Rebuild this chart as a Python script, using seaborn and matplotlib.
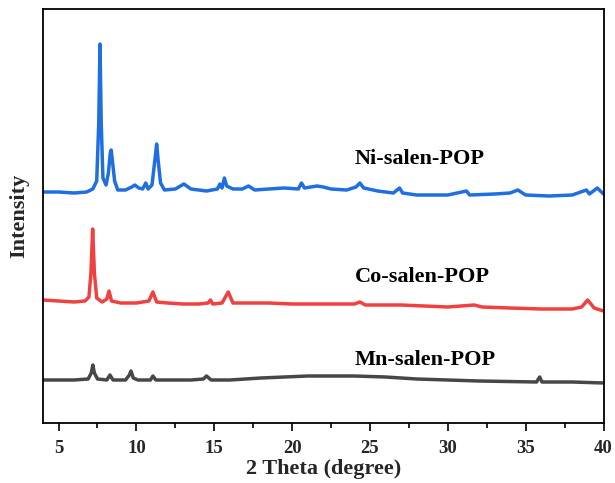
import matplotlib
matplotlib.use("Agg")
import matplotlib.pyplot as plt
import seaborn as sns
import pandas as pd
from matplotlib.ticker import MultipleLocator

# ---- data (2θ in degrees, intensity in arbitrary units) ----
ni_x = [4.0, 5.0, 6.0, 6.8, 7.2, 7.45, 7.58, 7.66, 7.74, 7.85, 8.05, 8.2, 8.32, 8.38, 8.46,
        8.6, 8.8, 9.3, 9.7, 9.9, 10.15, 10.4, 10.6, 10.75, 11.0, 11.2, 11.3, 11.4, 11.55, 11.8,
        12.5, 13.05, 13.5, 14.5, 15.2, 15.36, 15.5, 15.65, 15.8, 16.2, 16.8, 17.2, 17.6, 18.5,
        19.5, 20.4, 20.6, 20.8, 21.6, 22.0, 22.5, 23.5, 24.1, 24.35, 24.6, 25.5, 26.5, 26.9,
        27.1, 28.0, 30.0, 31.2, 31.4, 33.0, 34.0, 34.5, 35.0, 36.5, 38.0, 38.9, 39.1, 39.6, 40.0]
ni_y = [231, 231, 230, 231, 234, 242, 300, 379, 300, 245, 238, 250, 270, 273, 262,
        242, 233, 233, 236, 238, 235, 234, 240, 234, 238, 265, 279, 262, 240, 233,
        234, 239, 234, 232, 234, 239, 235, 245, 237, 234, 234, 237, 233, 234,
        235, 234, 240, 235, 237, 236, 234, 233, 236, 240, 235, 232, 230, 235,
        230, 228, 228, 232, 228, 229, 230, 233, 228, 227, 228, 233, 229, 235, 229]

co_x = [4.0, 5.0, 6.0, 6.7, 6.95, 7.08, 7.19, 7.3, 7.45, 7.8, 8.1, 8.24, 8.4, 9.0, 10.0,
        10.8, 11.06, 11.3, 12.0, 13.0, 14.0, 14.6, 14.76, 14.9, 15.5, 15.9, 16.2, 17.0, 18.5,
        20.0, 22.0, 24.0, 24.35, 24.7, 27.0, 30.0, 31.7, 32.2, 34.0, 36.0, 38.0, 38.6, 38.98,
        39.4, 40.0]
co_y = [123, 122, 121, 122, 126, 150, 194, 150, 125, 121, 124, 132, 122, 120, 120,
        122, 131, 121, 120, 119, 119, 120, 123, 119, 120, 131, 120, 120, 120,
        119, 119, 119, 121, 118, 118, 116, 118, 116, 115, 114, 114, 116, 123,
        115, 112]

mn_x = [4.0, 6.0, 6.9, 7.1, 7.2, 7.3, 7.5, 8.1, 8.3, 8.5, 9.3, 9.55, 9.65, 9.8, 10.1,
        10.9, 11.06, 11.25, 12.0, 13.5, 14.3, 14.5, 14.8, 16.0, 18.0, 21.0, 24.0, 26.0, 28.0,
        32.0, 35.7, 35.9, 36.05, 38.0, 40.0]
mn_y = [43, 43, 44, 50, 58, 50, 44, 43, 48, 43, 43, 48, 52, 45, 43,
        43, 47, 43, 43, 43, 44, 47, 43, 43, 45, 47, 47, 46, 44,
        42, 41, 46, 41, 41, 40]

series_names = ["Ni-salen-POP", "Co-salen-POP", "Mn-salen-POP"]
series_colors = ["#1f6fe0", "#f04040", "#474747"]
label_x = [24.0, 24.0, 24.0]
label_y = [264, 146, 63]
x_ticks = [5, 10, 15, 20, 25, 30, 35, 40]

frames = []
for name, xs, ys in zip(series_names, [ni_x, co_x, mn_x], [ni_y, co_y, mn_y]):
    frames.append(pd.DataFrame({"theta": xs, "intensity": ys, "sample": name}))
df = pd.concat(frames, ignore_index=True)

sns.set_style("white")
plt.rcParams["font.family"] = ["Liberation Serif", "DejaVu Serif"]
plt.rcParams["font.weight"] = "bold"

fig = plt.figure(figsize=(6.15, 4.83), dpi=100)
ax = fig.add_axes([43 / 615, 1 - 423 / 483, (603.5 - 43) / 615, (423 - 9) / 483])

sns.lineplot(data=df, x="theta", y="intensity", hue="sample", hue_order=series_names,
             palette=series_colors, estimator=None, sort=False, linewidth=2.5,
             legend=False, ax=ax)

for name, tx, ty in zip(series_names, label_x, label_y):
    ax.text(tx, ty, name, ha="left", va="center", fontsize=16, fontweight="bold",
            color="black")

ax.set_xlim(4, 40)
ax.set_ylim(0, 414)
ax.set_xticks(x_ticks)
ax.set_xticklabels([str(t) for t in x_ticks], fontsize=13.5, fontweight="bold")
ax.xaxis.set_minor_locator(MultipleLocator(2.5))
ax.set_yticks([])
ax.tick_params(axis="x", which="major", direction="out", length=6, width=1.2,
               bottom=True, top=False, pad=6, color="black")
ax.tick_params(axis="x", which="minor", direction="out", length=3.5, width=1.2,
               bottom=True, top=False, color="black")
ax.set_xlabel("2 Theta (degree)", fontsize=16, fontweight="bold", labelpad=2)
ax.set_ylabel("Intensity", fontsize=16, fontweight="bold", labelpad=10)
for sp in ax.spines.values():
    sp.set_visible(True)
    sp.set_color("black")
    sp.set_linewidth(1.3)

fig.savefig("out.png", dpi=100)
